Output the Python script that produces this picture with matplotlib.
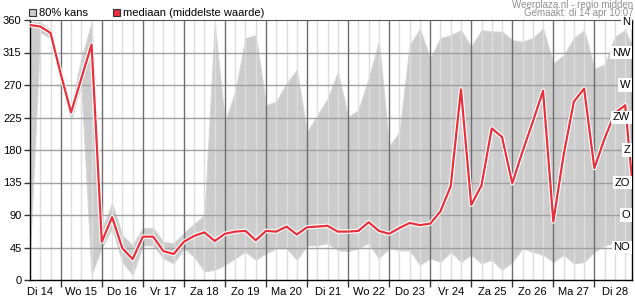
import numpy as np
import matplotlib.pyplot as plt
from matplotlib.patches import Rectangle

plt.rcParams['font.family'] = ['Liberation Sans', 'DejaVu Sans']

# hours since Di 14 00:00, every 6 hours
hours = [6, 12, 18, 24, 30, 36, 42, 48, 54, 60, 66, 72, 78, 84, 90, 96,
         102, 108, 114, 120, 126, 132, 138, 144, 150, 156, 162, 168, 174, 180,
         186, 192, 198, 204, 210, 216, 222, 228, 234, 240, 246, 252, 258, 264,
         270, 276, 282, 288, 294, 300, 306, 312, 318, 324, 330, 336, 342, 348,
         354, 358]

mediaan = [353, 351, 342, 285, 232, 279, 326, 53, 87, 44, 29, 60, 60, 40, 36, 53,
           61, 66, 54, 64, 67, 68, 55, 68, 67, 74, 63, 73, 74, 75,
           67, 67, 68, 80, 68, 64, 72, 79, 76, 78, 95, 130, 264, 104,
           131, 210, 198, 134, 178, 219, 262, 81, 173, 247, 265, 155, 196, 231,
           242, 140]

boven = [357, 357, 346, 293, 238, 307, 356, 72, 106, 62, 48, 72, 72, 53, 51, 65,
         78, 90, 353, 219, 261, 335, 339, 242, 247, 272, 291, 205, 228, 251,
         288, 226, 235, 279, 330, 185, 205, 325, 348, 307, 335, 339, 346, 323,
         346, 344, 344, 332, 330, 335, 348, 300, 311, 335, 346, 293, 298, 337,
         346, 325]

onder = [40, 343, 335, 278, 222, 270, 8, 45, 72, 25, 7, 48, 48, 30, 23, 44,
         32, 12, 14, 21, 30, 39, 28, 37, 44, 44, 28, 48, 48, 51,
         41, 40, 44, 51, 30, 44, 41, 41, 21, 30, 25, 39, 25, 35,
         23, 28, 14, 25, 44, 39, 35, 25, 35, 23, 25, 39, 48, 51,
         35, 44]

dag_labels = ['Di 14', 'Wo 15', 'Do 16', 'Vr 17', 'Za 18', 'Zo 19', 'Ma 20', 'Di 21',
              'Wo 22', 'Do 23', 'Vr 24', 'Za 25', 'Zo 26', 'Ma 27', 'Di 28']
richtingen = ['NO', 'O', 'ZO', 'Z', 'ZW', 'W', 'NW', 'N']

x0, x1 = 6, 358

fig = plt.figure(figsize=(6.35, 3.0), dpi=100)
ax = fig.add_axes([30 / 635, 20 / 300, 602 / 635, 260 / 300])

ax.fill_between(hours, onder, boven, color='#cccccc', lw=0.8, edgecolor='#d6d6d6', zorder=1)

# grid
for h in range(6, 360, 6):
    if h % 24 != 0:
        ax.axvline(h, color='#dedede', lw=1, zorder=2)
for v in range(45, 360, 45):
    ax.axhline(v, color='#a0a0a0', lw=1, zorder=2)
for d in range(24, 360, 24):
    ax.axvline(d, color='#6e6e6e', lw=1, zorder=2)

ax.plot(hours, mediaan, color='white', lw=3.2, zorder=3, solid_joinstyle='round')
ax.plot(hours, mediaan, color='#e8303c', lw=1.6, zorder=4, solid_joinstyle='round')

ax.set_xlim(x0, x1)
ax.set_ylim(0, 360)

ax.set_yticks(range(0, 361, 45))
ax.tick_params(axis='y', length=4, width=1, pad=2, labelsize=8, color='#333333')
ax.set_xticks(range(24, 360, 24))
ax.set_xticklabels([])
ax.tick_params(axis='x', which='major', length=5, width=1, color='#333333')
ax.set_xticks([24 * k + 12 for k in range(len(dag_labels))], minor=True)
ax.set_xticklabels(dag_labels, minor=True)
ax.tick_params(axis='x', which='minor', length=0, pad=5, labelsize=8)

for s in ['left', 'bottom', 'right']:
    ax.spines[s].set_color('black')
    ax.spines[s].set_linewidth(1)
ax.spines['top'].set_color('#555555')

for i, r in enumerate(richtingen):
    yv = 45 * (i + 1)
    if r == 'N':
        yv = 357
    ax.text(0.997, yv, r, transform=ax.get_yaxis_transform(),
            ha='right', va='center', fontsize=8, zorder=6, clip_on=False,
            bbox=dict(facecolor='white', edgecolor='none', pad=1.2))

# legend
fig.patches.append(Rectangle((29 / 635, 1 - 16 / 300), 7 / 635, 7 / 300,
                             transform=fig.transFigure, facecolor='#cccccc',
                             edgecolor='#333333', lw=0.8))
fig.text(39 / 635, 1 - 12.5 / 300, '80% kans', fontsize=8, va='center')
fig.patches.append(Rectangle((113 / 635, 1 - 16 / 300), 7 / 635, 7 / 300,
                             transform=fig.transFigure, facecolor='#e8303c',
                             edgecolor='#333333', lw=0.8))
fig.text(123 / 635, 1 - 12.5 / 300, 'mediaan (middelste waarde)', fontsize=8, va='center')

fig.text(633 / 635, 1 - 4.5 / 300, 'Weerplaza.nl - regio midden', fontsize=7,
         color='#909090', ha='right', va='center')
fig.text(633 / 635, 1 - 13 / 300, 'Gemaakt: di 14 apr 10:07', fontsize=7,
         color='#909090', ha='right', va='center')

fig.savefig('out.png', dpi=100)
